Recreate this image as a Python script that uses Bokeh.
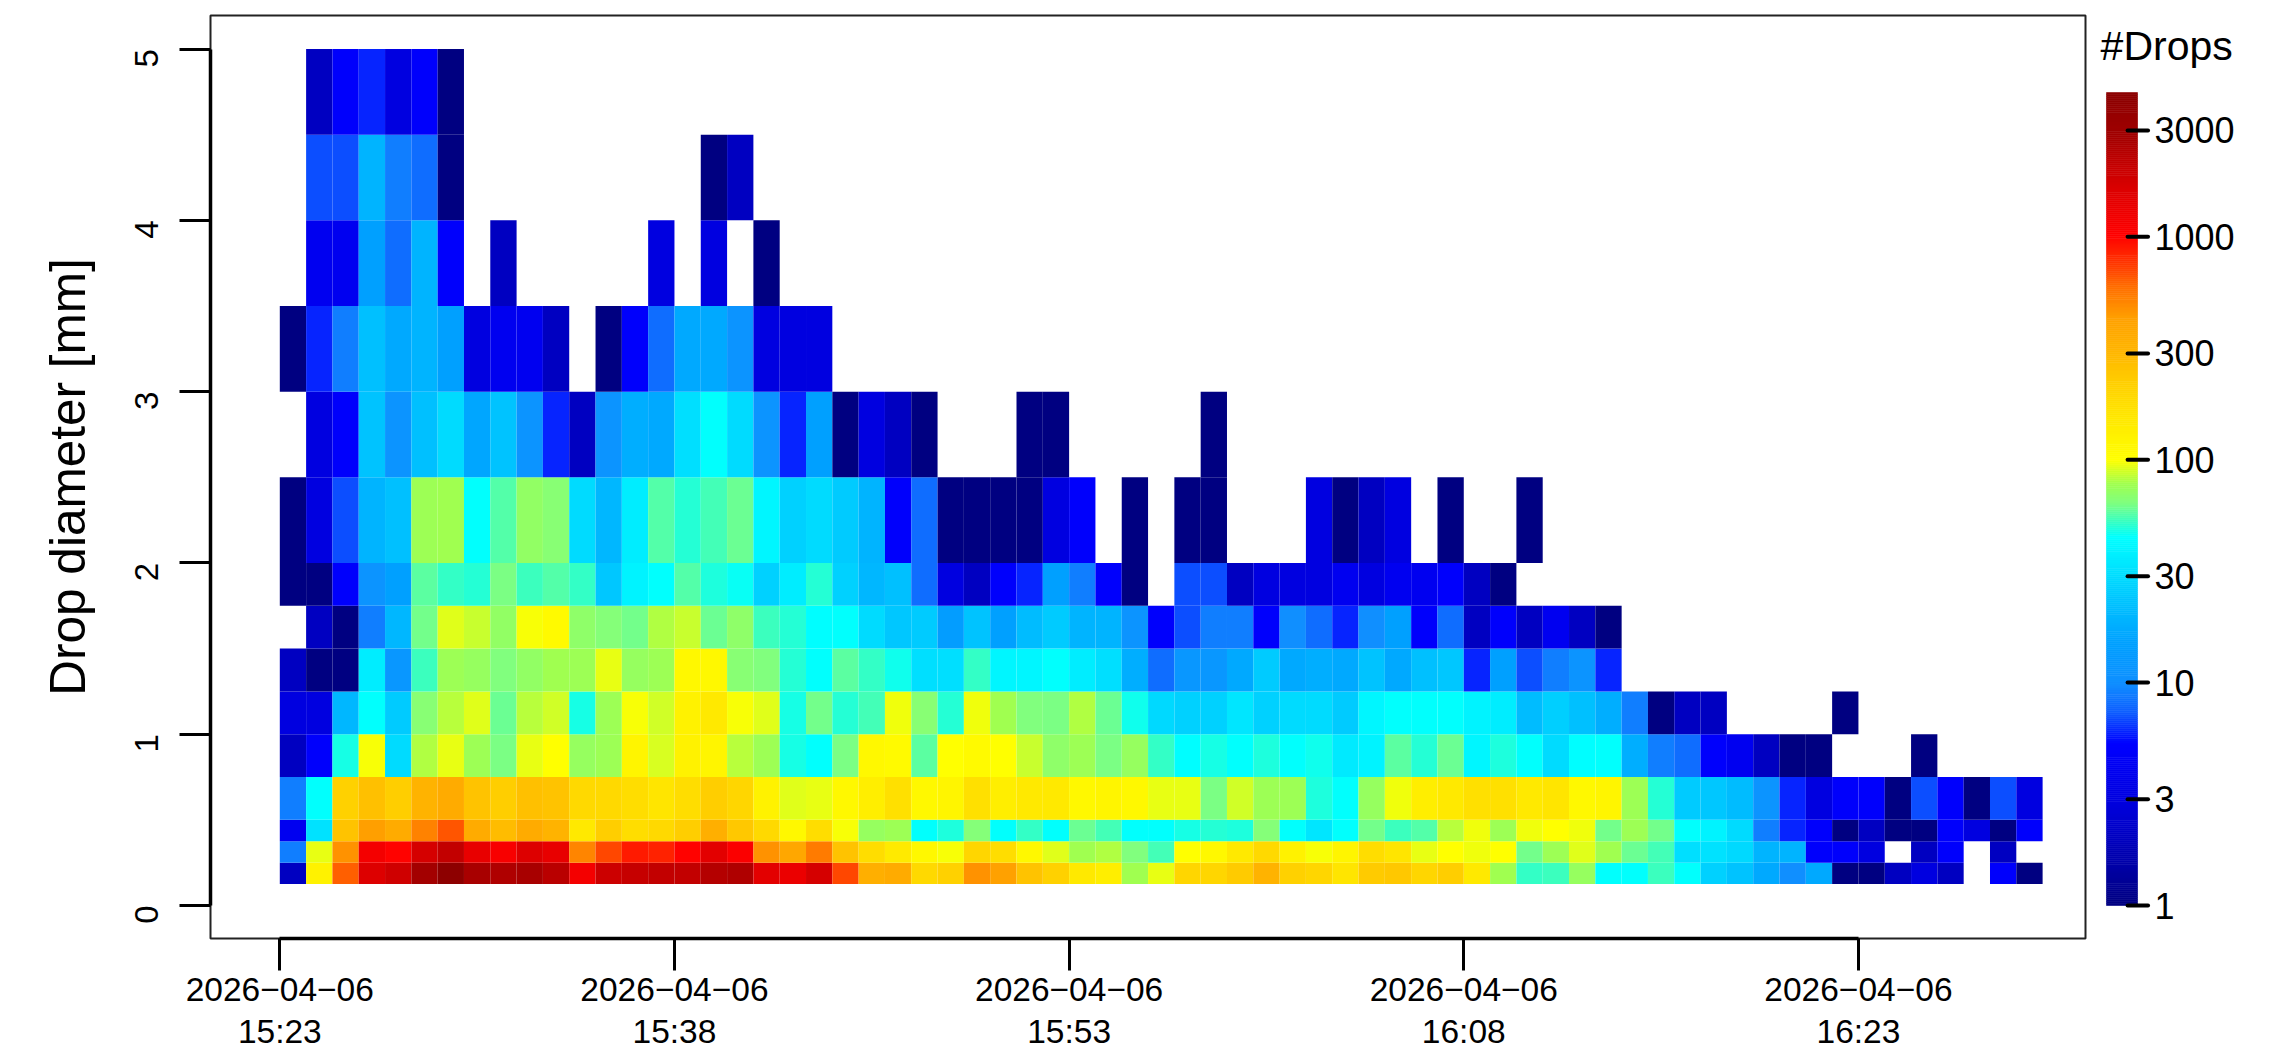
import math
import numpy as np
from bokeh.core.properties import value
from bokeh.embed import file_html
from bokeh.layouts import row
from bokeh.models import ColumnDataSource, FixedTicker, LogColorMapper, Range1d
from bokeh.plotting import figure
from bokeh.resources import INLINE

FONT = "Liberation Sans"

# Diameter bin edges [mm]
diameter_edges = [0.125, 0.25, 0.375, 0.5, 0.75, 1.0, 1.25, 1.5, 1.75, 2.0, 2.5, 3.0, 3.5, 4.0, 4.5, 5.0]

# Drop counts per minute column (first column 15:23), one list per diameter bin; 0 = no drops
d_0125 = [2,130,640,1600,1840,2840,4300,2690,2520,2690,2330,1200,1930,2060,2150,2150,2430,2520,1520,1350,1760,713,340,360,
          192,212,475,425,256,212,152,138,78,94,202,202,232,320,212,202,162,232,244,202,222,152,78,52,53,74,45,45,53,45,27,23,17,10,17,1,1,2,3,2,0,5,1]
d_0250 = [9,94,475,1200,1000,1760,2150,1420,1120,1600,1420,520,713,900,850,1000,1520,1080,475,385,545,256,182,150,
          114,98,202,182,114,92,78,81,64,55,100,114,152,192,130,98,122,182,162,94,100,96,100,62,76,92,78,60,55,31,32,29,19,19,5,5,3,0,2,5,0,2,0]
d_0375 = [4,32,256,440,360,530,660,360,280,360,320,152,222,182,192,222,340,244,192,114,182,98,74,76,
          45,49,66,45,52,45,60,55,45,45,48,50,49,66,45,34,45,62,54,57,83,96,76,96,100,96,62,76,62,45,39,30,9,6,5,1,2,1,1,5,3,1,5]
d_0500 = [9,45,212,268,222,320,360,256,222,268,256,192,192,182,162,182,222,202,130,92,94,114,138,172,
          114,122,172,138,152,152,114,122,114,94,94,63,89,76,76,49,45,74,96,138,152,172,172,152,162,114,122,76,50,25,24,21,11,6,3,5,5,1,7,5,1,7,3]
d_0750 = [2,5,48,98,30,81,94,76,63,94,100,74,76,122,90,130,122,83,76,48,45,63,114,110,
          58,100,110,100,86,70,76,63,74,52,44,48,45,49,45,47,35,39,58,50,61,41,49,45,30,44,45,18,9,8,5,4,2,1,1,0,0,0,1]
d_1000 = [3,3,20,45,25,68,83,92,60,83,89,48,76,98,89,130,152,98,92,48,62,50,55,96,
          68,50,96,78,64,63,81,60,47,29,27,27,34,27,30,30,25,41,45,45,45,39,37,21,26,22,18,9,1,2,2,0,0,0,0,1]
d_1250 = [2,1,1,37,12,54,76,74,64,72,78,76,94,74,76,114,114,68,64,50,45,58,52,47,
          31,31,52,41,41,45,37,31,18,8,12,12,17,25,17,18,17,23,17,22,24,6,15,7,9,11,6]
d_1500 = [0,2,1,9,20,62,92,86,72,98,108,70,66,62,81,86,60,70,54,50,44,45,30,24,
          25,14,23,15,21,25,19,19,11,5,7,9,9,5,10,8,6,10,15,5,8,2,5,2,4,2,1]
d_1750 = [1,1,5,11,15,58,52,50,63,54,57,52,24,39,45,57,49,46,27,37,50,27,20,22,
          8,3,2,5,6,15,9,5,1,0,7,7,2,3,3,3,4,3,4,4,5,2,1]
d_2000 = [1,3,7,19,22,76,78,45,57,72,68,30,20,37,57,50,55,60,41,27,30,25,19,5,
          8,1,1,1,1,3,5,0,1,0,1,1,0,0,0,3,1,2,3,0,1,0,0,1]
d_2500 = [0,3,5,23,11,22,30,16,23,11,6,2,11,18,17,31,45,30,11,6,15,1,3,2,1,0,0,0,1,1,0,0,0,0,0,1]
d_3000 = [1,6,9,22,17,19,15,3,4,4,2,0,1,5,8,17,17,11,3,3,3]
d_3500 = [0,4,4,15,8,19,5,0,2,0,0,0,0,0,3,0,3,0,1]
d_4000 = [0,7,7,19,9,8,1,0,0,0,0,0,0,0,0,0,1,2]
d_4500 = [0,2,5,6,3,5,1]
counts_by_bin = [d_0125, d_0250, d_0375, d_0500, d_0750, d_1000, d_1250, d_1500, d_1750, d_2000,
                 d_2500, d_3000, d_3500, d_4000, d_4500]

# Axis ticks
time_tick_minutes = [0, 15, 30, 45, 60]
time_tick_dates = ["2026\u221204\u221206"] * 5
time_tick_times = ["15:23", "15:38", "15:53", "16:08", "16:23"]
diameter_ticks = [0, 1, 2, 3, 4, 5]

# Colour scale: logarithmic from 1 to the largest count
scale_ticks = [1, 3, 10, 30, 100, 300, 1000, 3000]
scale_low = 1
scale_high = 4440
colour_stop_values = [1, 2, 3, 5.3, 7.4, 10, 15, 22, 30, 45, 52, 64, 78, 100, 155, 220, 309, 434, 592, 728, 1024,
                      1454, 2199, 2905, 4440]
colour_stops = ["#000080", "#0000c0", "#0000e0", "#0000ff", "#0f5fff", "#1090ff", "#00a0ff", "#00bfff", "#00dcff",
                "#00ffff", "#30ffc8", "#80ff80", "#a0ff50", "#ffff00", "#ffe800", "#ffcf00", "#ffb500", "#ffa000",
                "#ff7000", "#ff4000", "#ff0000", "#e60000", "#c00000", "#a00000", "#8b0000"]

rgb = np.array([[int(c[i:i + 2], 16) for i in (1, 3, 5)] for c in colour_stops], dtype=float)
N = 400
log_edges = np.linspace(np.log10(scale_low), np.log10(scale_high), N + 1)
log_mid = 0.5 * (log_edges[:-1] + log_edges[1:])
log_stops = np.log10(colour_stop_values)
palette = ["#%02x%02x%02x" % tuple(int(round(np.interp(g, log_stops, rgb[:, k]))) for k in range(3))
           for g in log_mid]
mapper = LogColorMapper(palette=palette, low=scale_low, high=scale_high)

left, right, bottom, top, count = [], [], [], [], []
for b, counts in enumerate(counts_by_bin):
    for m, n in enumerate(counts):
        if n > 0:
            left.append(m)
            right.append(m + 1)
            bottom.append(diameter_edges[b])
            top.append(diameter_edges[b + 1])
            count.append(n)
cells = ColumnDataSource(dict(left=left, right=right, bottom=bottom, top=top, count=count))

p = figure(width=2090, height=1050, frame_width=1875, frame_height=923, output_backend="svg", toolbar_location=None,
           x_range=Range1d(-2.634, 68.63), y_range=Range1d(-0.1926, 5.196),
           min_border_left=210, min_border_right=5, min_border_top=15, min_border_bottom=112)
p.quad(left="left", right="right", bottom="bottom", top="top", source=cells,
       fill_color={"field": "count", "transform": mapper}, fill_alpha=1.0, line_color=None)

p.grid.visible = False
p.outline_line_color = "#222222"
p.outline_line_width = 2
p.background_fill_color = "white"
p.border_fill_color = "white"

xa = p.xaxis[0]
xa.ticker = FixedTicker(ticks=time_tick_minutes)
xa.major_label_overrides = {m: d + "\n" + t for m, d, t in zip(time_tick_minutes, time_tick_dates, time_tick_times)}
xa.bounds = (time_tick_minutes[0], time_tick_minutes[-1])
xa.axis_line_width = 3.5
xa.axis_line_color = "black"
xa.major_tick_in = 0
xa.major_tick_out = 32
xa.major_tick_line_width = 3
xa.major_tick_line_color = "black"
xa.minor_tick_line_color = None
xa.major_label_text_font = FONT
xa.major_label_text_font_size = "33.5px"
xa.major_label_text_color = "black"
xa.major_label_standoff = 0
xa.major_label_text_line_height = 1.15

ya = p.yaxis[0]
ya.ticker = FixedTicker(ticks=diameter_ticks)
ya.bounds = (diameter_ticks[0], diameter_ticks[-1])
ya.axis_line_width = 3.5
ya.axis_line_color = "black"
ya.major_tick_in = 0
ya.major_tick_out = 31
ya.major_tick_line_width = 3
ya.major_tick_line_color = "black"
ya.minor_tick_line_color = None
ya.major_label_orientation = math.pi / 2
ya.major_label_text_font = FONT
ya.major_label_text_font_size = "33px"
ya.major_label_text_color = "black"
ya.major_label_standoff = 33
ya.axis_label = "Drop diameter [mm]"
ya.axis_label_text_font = FONT
ya.axis_label_text_font_size = "49.5px"
ya.axis_label_text_font_style = "normal"
ya.axis_label_text_color = "black"
ya.axis_label_standoff = 26

# Colour bar: y is log10(count); it shares the frame's vertical extent, and the ranges are
# padded so that the bar sits inside that frame
cb = figure(width=189, height=1050, frame_width=189, frame_height=923, output_backend="svg", toolbar_location=None,
            x_range=Range1d(-0.516, 5.58), y_range=Range1d(-0.148, 3.993),
            x_axis_location=None, y_axis_location=None,
            min_border_left=0, min_border_right=0, min_border_top=15, min_border_bottom=112)
cb.quad(left=0, right=1, bottom=log_edges[:-1], top=log_edges[1:], fill_color=palette, fill_alpha=1.0,
        line_color=palette, line_width=0.6)
tick_levels = [float(np.log10(v)) for v in scale_ticks]
cb.segment(x0=0.68, x1=1.34, y0=tick_levels, y1=tick_levels, line_color="black", line_width=4, line_cap="round")
cb.text(x=1.548, y=tick_levels, text=[str(v) for v in scale_ticks], text_font=value(FONT),
        text_font_size=value("36px"), text_color="black", text_baseline="middle", text_align="left")
cb.text(x=[-0.19], y=[3.856], text=["#Drops"], text_font=value(FONT), text_font_size=value("41px"),
        text_color="black", text_baseline="alphabetic", text_align="left")
cb.grid.visible = False
cb.outline_line_color = None
cb.background_fill_color = "white"
cb.border_fill_color = "white"

layout = row(p, cb, spacing=0)
open("out.html", "w").write(file_html(layout, INLINE))
